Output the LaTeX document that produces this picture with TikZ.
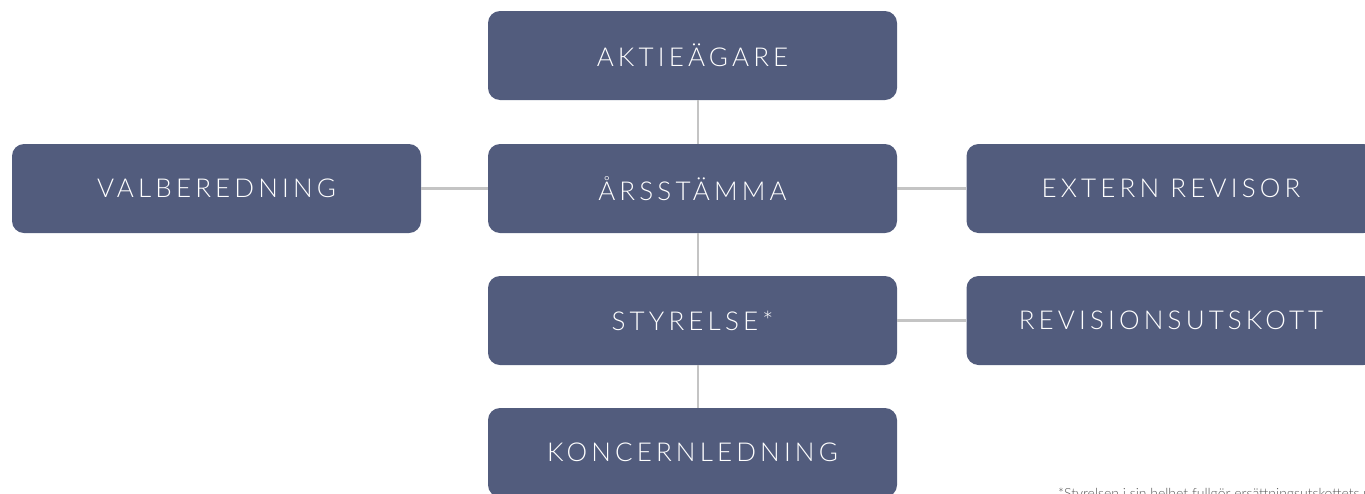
\documentclass[tikz,border=0pt]{standalone}
\usepackage{fontspec}
\setmainfont{Lato Light}[LetterSpace=16]
\newfontfamily\notefont{Lato Light}
\definecolor{boxblue}{HTML}{525C7D}
\definecolor{linegray}{HTML}{C4C4C4}
\definecolor{notegray}{HTML}{555555}
\begin{document}
\begin{tikzpicture}[x=1pt,y=-1pt,
  orgbox/.style={fill=boxblue, rounded corners=12pt, minimum width=409pt, minimum height=89pt,
    inner sep=0pt, text=white, font=\fontsize{26}{29}\selectfont, anchor=center},
  conn/.style={draw=linegray, line width=2.6pt}]
\useasboundingbox (0,0) rectangle (1365,493);
\clip (0,0) rectangle (1365,493);
\node[orgbox] (akt) at (692.5,55.5) {AKTIEÄGARE};
\node[orgbox] (ars) at (692.5,188.5) {ÅRSSTÄMMA};
\node[orgbox] (val) at (216.5,188.5) {VALBEREDNING};
\node[orgbox] (ext) at (1171,188.5) {EXTERN REVISOR};
\node[orgbox] (sty) at (692.5,320.5) {STYRELSE*};
\node[orgbox] (rev) at (1171,320.5) {REVISIONSUTSKOTT};
\node[orgbox] (kon) at (692.5,452.5) {KONCERNLEDNING};
\draw[conn] ([xshift=5.5pt]akt.south) -- ([xshift=5.5pt]ars.north);
\draw[conn] ([xshift=5.5pt]ars.south) -- ([xshift=5.5pt]sty.north);
\draw[conn] ([xshift=5.5pt]sty.south) -- ([xshift=5.5pt]kon.north);
\draw[conn] (val.east) -- (ars.west);
\draw[conn] (ars.east) -- (ext.west);
\draw[conn] (sty.east) -- (rev.west);
\node[anchor=base west, inner sep=0pt, text=notegray, font=\notefont\fontsize{14}{16}\selectfont] (note) at (1058,498) {*Styrelsen i sin helhet fullgör ersättningsutskottets uppgifter};
\end{tikzpicture}
\end{document}
